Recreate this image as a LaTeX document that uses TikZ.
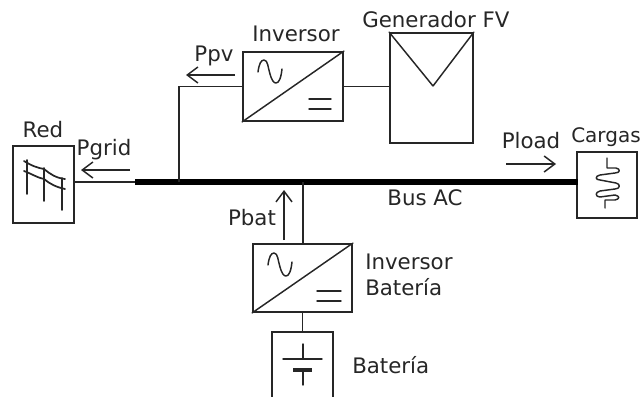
\documentclass[tikz,border=0pt]{standalone}
\usepackage{fontspec}
\setmainfont{DejaVu Sans}
\usetikzlibrary{arrows.meta}
\tikzset{
  x=0.75pt,y=-0.75pt,
  box/.style={draw=black!85,line width=1.35pt,inner sep=0pt,minimum width=#1},
  wire/.style={draw=black!85,line width=1.1pt},
  glyph/.style={draw=black!85,line width=1.1pt,line cap=round,line join=round},
  flow/.style={draw=black!85,line width=1.1pt,-{Straight Barb[length=8pt,width=12pt,line width=1.1pt]}},
  lbl/.style={font=\fontsize{16}{18}\selectfont,text=black!85,inner sep=0pt,anchor=base},
  lbll/.style={lbl,anchor=base west},
}
\newcommand{\sinewave}[2]{% x0,ytop
  \draw[glyph] ({#1},{#2+12}) .. controls ({#1+1},{#2+4}) and ({#1+3},{#2}) .. ({#1+6},{#2})
     .. controls ({#1+10},{#2}) and ({#1+10},{#2+8}) .. ({#1+12},{#2+14})
     .. controls ({#1+14},{#2+21}) and ({#1+16},{#2+23}) .. ({#1+18},{#2+23})
     .. controls ({#1+21},{#2+23}) and ({#1+23},{#2+18}) .. ({#1+24},{#2+9});
}
\begin{document}
\begin{tikzpicture}
\useasboundingbox (0,0) rectangle (641,396);
\clip (0,0) rectangle (641,396);
% nodes
\node[box=61*0.75pt,minimum height=77*0.75pt] (red) at (43.5,184.5) {};
\node[box=100*0.75pt,minimum height=69*0.75pt] (inv) at (293,86.5) {};
\node[box=83*0.75pt,minimum height=110*0.75pt] (fv) at (431.5,88) {};
\node[box=99*0.75pt,minimum height=68*0.75pt] (invb) at (302.5,278) {};
\node[box=61*0.75pt,minimum height=72*0.75pt] (bat) at (302.5,368) {};
\node[box=60*0.75pt,minimum height=66*0.75pt] (car) at (607,185) {};
\node[fill=black,inner sep=0pt,minimum width=443*0.75pt,minimum height=6*0.75pt] (bus) at (356.5,182) {};
\coordinate (tap) at (179,182);
\coordinate (tapb) at (303,182);
% connectors
\draw[wire] (red.east|-bus) -- (bus.west);
\draw[wire] (inv.west) -- (tap|-inv.west) -- (tap);
\draw[wire] (inv.east) -- (fv.west|-inv.east);
\draw[wire] (tapb) -- (tapb|-invb.north);
\draw[wire] (invb.south) -- (bat.north);
% inverter glyphs
\draw[glyph] (inv.south west) -- (inv.north east);
\draw[glyph] (invb.south west) -- (invb.north east);
\sinewave{258}{60}
\sinewave{268}{253}
\draw[glyph] (309,99) -- (331,99) (309,109) -- (331,109);
\draw[glyph] (317,291) -- (341,291) (317,301) -- (341,301);
% PV glyph
\draw[glyph] (fv.north west) -- (433,86) -- (fv.north east);
% battery glyph
\draw[glyph] (303,344) -- (303,359) (283,359) -- (322,359);
\draw[glyph,line width=3pt,line cap=butt] (293,370) -- (312,370);
\draw[glyph] (303,370) -- (303,385);
% load glyph
\draw[glyph] (607,158) -- (607,168) -- (616,168)
  .. controls (621,169) and (620,173) .. (615,173) -- (600,175)
  .. controls (595,176) and (595,180) .. (600,180) -- (616,183)
  .. controls (621,184) and (620,189) .. (615,189) -- (600,191)
  .. controls (595,192) and (595,197) .. (600,197) -- (615,195)
  .. controls (620,196) and (620,199) .. (615,200) -- (605,200) -- (605,208);
% grid glyph
\draw[glyph,line width=1.4pt] (27,160) -- (27,194) (44,168) -- (44,201) (62,178) -- (62,210);
\draw[glyph,line width=1.3pt] (24,161) .. controls (32,166) and (38,168) .. (44,169) .. controls (50,174) and (56,178) .. (65,179);
\draw[glyph,line width=1.3pt] (24,171) .. controls (32,174) and (38,178) .. (44,179) .. controls (50,184) and (56,187) .. (65,189);
% flow arrows
\coordinate (gA) at (130,170); \coordinate (gB) at (81,170);
\coordinate (pA) at (235,75); \coordinate (pB) at (186,75);
\coordinate (bA) at (284,240); \coordinate (bB) at (284,190);
\coordinate (lA) at (506,164); \coordinate (lB) at (556,164);
\draw[flow] (gA) -- (gB);
\draw[flow] (pA) -- (pB);
\draw[flow] (bA) -- (bB);
\draw[flow] (lA) -- (lB);
% labels
\node[lbl] (t1) at (43,137) {Red};
\node[lbl] (t2) at (104,155) {Pgrid};
\node[lbl] (t3) at (214,61) {Ppv};
\node[lbl] (t4) at (296,41) {Inversor};
\node[lbll] (t5) at (362,27) {Generador FV};
\node[lbl] (t6) at (531,148) {Pload};
\node[lbll,font=\fontsize{15}{18}\selectfont] (t7) at (571,142) {Cargas};
\node[lbl] (t8) at (425,205) {Bus AC};
\node[lbl] (t9) at (252,225) {Pbat};
\node[lbll] (t10) at (365,269) {Inversor};
\node[lbll] (t11) at (365,295) {Batería};
\node[lbll] (t12) at (352,373) {Batería};
\end{tikzpicture}
\end{document}
